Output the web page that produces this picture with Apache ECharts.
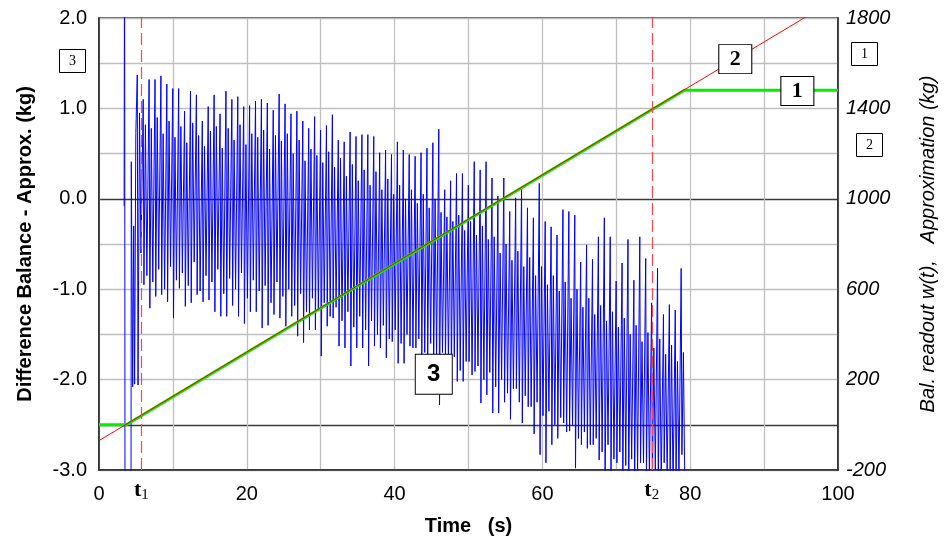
<!DOCTYPE html>
<html>
<head>
<meta charset="utf-8">
<script src="https://cdn.jsdelivr.net/npm/echarts@6/dist/echarts.min.js"></script>
<style>
  html, body { margin: 0; padding: 0; background: #fff; }
  #chart { width: 946px; height: 550px; }
</style>
</head>
<body>
<div id="chart"></div>
<script>
// ---- Balance readout (kg, right axis) ----
const readoutT = [0, 3.7, 79.2, 100];
const readoutW = [0, 0, 1480, 1480];

// ---- Linear approximation (kg, right axis) ----
const approxT = [0, 100];
const approxW = [-70, 1890];

// ---- Difference balance - approximation (kg, left axis) ----
// start-up transient before the regular oscillation
const blueLeadIn = [
  [3.40, -0.08], [3.46, 3.4], [3.52, -3.6], [4.33, -3.6], [4.37, 0.41],
  [4.50, 0.43], [4.56, -2.08], [4.70, -0.30], [4.82, -2.05], [4.98, 0.72]
];
// one oscillation cycle every bluePeriod seconds from blueCycleStart
const blueCycleStart = 5.18;
const bluePeriod = 0.8;
const bluePeaks = [
  1.37, 1.10, 1.32, 1.32, 1.36, 1.27, 1.22, 1.22, 0.97, 1.19,
  1.15, 0.86, 1.02, 1.15, 0.94, 1.19, 1.10, 1.13, 1.02, 1.03,
  1.08, 1.10, 1.06, 0.98, 1.16, 1.05, 0.94, 0.97, 0.86, 0.78,
  0.91, 0.76, 0.81, 0.93, 0.65, 0.63, 0.74, 0.69, 0.71, 0.71,
  0.69, 0.51, 0.54, 0.49, 0.63, 0.54, 0.49, 0.47, 0.51, 0.56,
  0.62, 0.77, 0.10, 0.20, 0.28, 0.28, 0.15, 0.41, 0.32, 0.41,
  0.23, 0.03, 0.23, -0.14, 0.01, 0.12, -0.10, -0.21, 0.17, -0.25,
  -0.31, -0.40, -0.12, -0.14, -0.18, -0.70, -0.51, -0.67, -0.42, -0.21,
  -0.42, -0.91, -0.71, -0.45, -0.90, -0.42, -0.66, -1.15, -0.77, -1.28,
  -1.17, -1.23, -0.77
];
const blueTroughs = [
  -2.06, -0.95, -1.21, -1.08, -1.06, -1.14, -1.32, -0.99, -1.19, -1.15,
  -1.06, -1.14, -1.12, -1.25, -1.30, -1.30, -1.18, -1.30, -1.38, -1.25,
  -1.25, -1.43, -1.40, -1.28, -1.32, -1.41, -1.30, -1.52, -1.59, -1.45,
  -1.45, -1.74, -1.41, -1.32, -1.63, -1.65, -1.85, -1.65, -1.65, -1.85,
  -1.63, -1.65, -1.76, -1.58, -1.82, -1.82, -1.63, -1.65, -1.76, -1.76,
  -2.00, -2.28, -1.82, -1.98, -2.02, -2.02, -1.80, -1.91, -2.26, -2.17,
  -2.37, -2.37, -2.25, -2.44, -2.10, -2.48, -2.30, -2.60, -2.83, -2.92,
  -2.72, -2.65, -2.48, -2.57, -2.98, -2.72, -2.76, -2.72, -2.89, -3.20,
  -3.10, -2.92, -3.20, -3.20, -3.20, -2.92, -3.05, -3.20, -3.20, -2.92,
  -3.20, -3.20, -2.83
];
// intermediate swing after each trough (upper) and before the next peak (lower)
const blueHighKnees = [
  0.95, 0.82, 0.78, 0.90, 0.72, 0.86, 0.68, 0.80, 0.62, 0.84,
  0.70, 0.58, 0.75, 0.80, 0.56, 0.78, 0.65, 0.82, 0.60, 0.72,
  0.68, 0.76, 0.55, 0.70, 0.64, 0.72, 0.50, 0.65, 0.42, 0.55,
  0.48, 0.40, 0.52, 0.35, 0.45, 0.25, 0.38, 0.20, 0.32, 0.15,
  0.30, 0.10, 0.22, 0.05, 0.15, 0.00, 0.10, -0.05, 0.05, -0.10,
  0.00, -0.15, -0.20, -0.25, -0.18, -0.35, -0.25, -0.40, -0.30, -0.45,
  -0.42, -0.60, -0.50, -0.68, -0.58, -0.75, -0.65, -0.85, -0.75, -0.95,
  -0.85, -1.02, -0.92, -1.10, -1.00, -1.20, -1.10, -1.28, -1.18, -1.35,
  -1.25, -1.42, -1.32, -1.50, -1.40, -1.58, -1.48, -1.65, -1.55, -1.72,
  -1.62, -1.80, -1.70
];
const blueLowKnees = [
  -0.60, -0.85, -0.92, -0.78, -1.00, -0.75, -0.90, -0.82, -0.96, -0.70,
  -1.02, -0.85, -0.92, -0.78, -1.05, -0.88, -1.00, -0.82, -1.10, -0.90,
  -1.02, -0.96, -1.15, -0.92, -1.08, -1.00, -1.18, -1.05, -1.25, -1.10,
  -1.22, -1.15, -1.30, -1.20, -1.35, -1.25, -1.42, -1.30, -1.45, -1.35,
  -1.50, -1.40, -1.55, -1.45, -1.60, -1.50, -1.65, -1.55, -1.70, -1.60,
  -1.75, -1.70, -1.80, -1.75, -1.90, -1.80, -1.95, -1.85, -2.00, -1.92,
  -2.08, -2.00, -2.15, -2.10, -2.25, -2.18, -2.30, -2.25, -2.40, -2.35,
  -2.50, -2.42, -2.58, -2.50, -2.65, -2.58, -2.72, -2.65, -2.80, -2.72,
  -2.88, -2.80, -2.95, -2.88, -3.02, -2.92, -3.08, -3.00, -3.15, -3.05,
  -3.20, -3.10, -3.25
];
const blueTail = [[79.42, -3.4]];

// ---- Event markers ----
const t1 = 5.74;
const t2 = 74.8;

// ---- Axis ticks ----
const xLabelTicks = [0, 20, 40, 60, 80, 100];

// ---- Boxed series tags ----
const tagReadout = { text: '1', at: [94.5, 1477] };
const tagApprox = { text: '2', at: [86.1, 1618] };
const tagDiff = { text: '3', at: [45.3, -1.94] };

// assemble series data
const readoutData = readoutT.map((t, i) => [t, readoutW[i]]);
const approxData = approxT.map((t, i) => [t, approxW[i]]);
const blueData = blueLeadIn.slice();
for (let n = 0; n < bluePeaks.length; n++) {
  const t0 = blueCycleStart + n * bluePeriod;
  blueData.push([t0, bluePeaks[n]]);
  blueData.push([t0 + 0.1, blueTroughs[n]]);
  blueData.push([t0 + 0.3, blueHighKnees[n]]);
  blueData.push([t0 + 0.5, blueLowKnees[n]]);
}
blueTail.forEach(p => blueData.push(p));

const SANS = '"Liberation Sans", Arial, sans-serif';
const SERIF = '"Liberation Serif", "Times New Roman", serif';
const GRID_GREY = '#bfbfbf';
const GRID_DARK = '#3a3a3a';
const FRAME = '#262626';

// left-axis split line colours; darker lines at -2.5 (right-axis zero) and 0.0
const leftSplitColors = [GRID_GREY, GRID_DARK, GRID_GREY, GRID_GREY, GRID_GREY, GRID_GREY,
  GRID_DARK, GRID_GREY, GRID_GREY, GRID_GREY, GRID_GREY];

function boxTag(tag, w, h, font, weight, size) {
  return {
    symbol: 'rect',
    symbolSize: [w, h],
    silent: true,
    itemStyle: { color: '#fff', borderColor: '#000', borderWidth: 1 },
    label: {
      show: true, position: 'inside', formatter: tag.text,
      fontFamily: font, fontWeight: weight, fontSize: size, color: '#000'
    },
    data: [{ coord: tag.at }]
  };
}

function smallBox(cx, cy, text) {
  return [
    { type: 'rect', z: 100, shape: { x: cx - 13, y: cy - 11.5, width: 26, height: 23 },
      style: { fill: '#fff', stroke: '#000', lineWidth: 1 } },
    { type: 'text', z: 101, x: cx, y: cy,
      style: { text: text, fontFamily: SERIF, fontSize: 14, fill: '#000', align: 'center', verticalAlign: 'middle' } }
  ];
}

const chart = echarts.init(document.getElementById('chart'), null, { renderer: 'canvas' });
chart.setOption({
  animation: false,
  backgroundColor: '#fff',
  grid: { left: 99, right: 107, top: 18, bottom: 80, show: true, borderColor: FRAME, borderWidth: 1.5, backgroundColor: 'transparent' },
  xAxis: {
    type: 'value', min: 0, max: 100, interval: 10,
    axisLine: { show: true, onZero: false, lineStyle: { color: FRAME, width: 1.5 } },
    axisTick: { show: false },
    axisLabel: {
      formatter: v => (xLabelTicks.indexOf(v) >= 0 ? String(v) : ''),
      fontFamily: SANS, fontSize: 20, color: '#000', margin: 14
    },
    splitLine: { show: true, lineStyle: { color: GRID_GREY, width: 1.3 } },
    name: 'Time   (s)', nameLocation: 'middle', nameGap: 46,
    nameTextStyle: { fontFamily: SANS, fontSize: 20, fontWeight: 'bold', color: '#000' }
  },
  yAxis: [
    {
      type: 'value', min: -3, max: 2, interval: 0.5, position: 'left',
      axisLine: { show: true, onZero: false, lineStyle: { color: FRAME, width: 1.5 } },
      axisTick: { show: false },
      axisLabel: {
        formatter: v => (Math.abs(v - Math.round(v)) < 1e-9 ? v.toFixed(1) : ''),
        fontFamily: SANS, fontSize: 20, color: '#000', margin: 12
      },
      splitLine: { show: true, lineStyle: { color: leftSplitColors, width: 1.3 } },
      name: 'Difference Balance - Approx. (kg)', nameLocation: 'middle', nameRotate: 90, nameGap: 64,
      nameTextStyle: { fontFamily: SANS, fontSize: 20, fontWeight: 'bold', color: '#000' }
    },
    {
      type: 'value', min: -200, max: 1800, interval: 400, position: 'right',
      axisLine: { show: true, onZero: false, lineStyle: { color: FRAME, width: 1.5 } },
      axisTick: { show: false },
      axisLabel: {
        formatter: v => String(v),
        fontFamily: SANS, fontSize: 20, fontStyle: 'italic', color: '#000', margin: 8
      },
      splitLine: { show: false },
      name: 'Bal. readout w(t),   Approximation (kg)', nameLocation: 'middle', nameRotate: 90, nameGap: 80,
      nameTextStyle: { fontFamily: SANS, fontSize: 20, fontStyle: 'italic', color: '#000' }
    }
  ],
  series: [
    {
      name: 'Difference', type: 'line', yAxisIndex: 0, data: blueData,
      showSymbol: false, symbol: 'none', sampling: null, clip: true, z: 2,
      lineStyle: { color: '#0000ff', width: 1 },
      markPoint: boxTag(tagDiff, 37, 40, SANS, 'bold', 24)
    },
    {
      name: 'Readout', type: 'line', yAxisIndex: 1, data: readoutData,
      showSymbol: false, symbol: 'none', clip: true, z: 3,
      lineStyle: { color: '#00f000', width: 3 },
      markPoint: boxTag(tagReadout, 33, 29, SERIF, 'bold', 22)
    },
    {
      name: 'Approximation', type: 'line', yAxisIndex: 1, data: approxData,
      showSymbol: false, symbol: 'none', clip: true, z: 4,
      lineStyle: { color: '#ff0000', width: 1 },
      markPoint: boxTag(tagApprox, 33, 29, SERIF, 'bold', 22),
      markLine: {
        silent: true, symbol: 'none',
        lineStyle: { color: '#ff4646', type: [12, 5], width: 1.2 },
        label: {
          show: true, position: 'start', distance: 8,
          rich: {
            t: { fontFamily: SERIF, fontWeight: 'bold', fontSize: 22, color: '#000' },
            s: { fontFamily: SERIF, fontSize: 15, color: '#000', padding: [10, 0, 0, 0] }
          }
        },
        data: [
          { xAxis: t1, label: { formatter: '{t|t}{s|1}' } },
          { xAxis: t2, label: { formatter: '{t|t}{s|2}' } }
        ]
      }
    }
  ],
  graphic: [].concat(
    smallBox(72.5, 61, '3'),
    smallBox(864.5, 54, '1'),
    smallBox(869.5, 145, '2')
  )
});
</script>
</body>
</html>
